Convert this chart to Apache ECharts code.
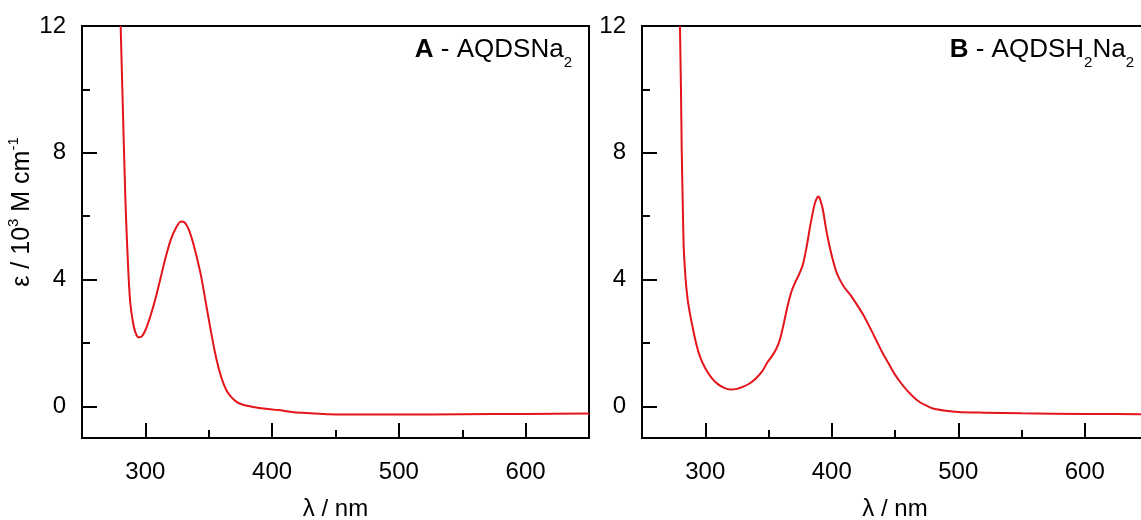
<!DOCTYPE html>
<html>
<head>
<meta charset="utf-8">
<script src="https://cdn.jsdelivr.net/npm/echarts@6/dist/echarts.min.js"></script>
<style>html,body{margin:0;padding:0;background:#fff;overflow:hidden}#c{width:1141px;height:520px}</style>
</head>
<body>
<div id="c"></div>
<script>
// ---- data ----
const lambdaA = [280.5, 282.5, 284.5, 286.5, 288, 290, 292, 294.5, 297, 300, 304, 308, 312, 316, 320, 324, 328, 331, 334, 337, 340, 344, 348, 352, 356, 360, 364, 368, 372, 377, 385, 395, 405, 417, 430, 445, 470, 500, 550, 600, 650];
const epsA    = [12.0, 9.0, 6.2, 4.3, 3.3, 2.7, 2.35, 2.18, 2.2, 2.4, 2.85, 3.4, 4.05, 4.7, 5.25, 5.62, 5.83, 5.8, 5.6, 5.25, 4.8, 4.1, 3.2, 2.3, 1.5, 0.9, 0.5, 0.28, 0.14, 0.05, -0.02, -0.08, -0.12, -0.19, -0.22, -0.25, -0.26, -0.26, -0.25, -0.24, -0.23];

const lambdaB = [280, 280.8, 281.4, 282.3, 283, 284.5, 286, 288, 290, 293, 296, 300, 305, 310, 315, 320, 325, 330, 335, 340, 345, 349, 353, 356, 359, 362, 365, 368, 371, 374, 377, 380, 383, 386, 388, 389.5, 391, 393, 395.5, 398, 401, 404, 407, 410, 415, 420, 425, 430, 435, 440, 445, 450, 455, 460, 465, 470, 475, 480, 490, 500, 520, 550, 600, 650];
const epsB    = [12.0, 10.0, 8.1, 6.2, 5.0, 4.0, 3.4, 2.9, 2.5, 1.95, 1.55, 1.2, 0.9, 0.7, 0.58, 0.53, 0.55, 0.62, 0.72, 0.88, 1.1, 1.38, 1.6, 1.8, 2.1, 2.6, 3.15, 3.6, 3.9, 4.15, 4.45, 5.0, 5.7, 6.3, 6.55, 6.62, 6.5, 6.2, 5.6, 5.1, 4.6, 4.2, 3.95, 3.75, 3.5, 3.2, 2.88, 2.5, 2.1, 1.7, 1.35, 1.0, 0.72, 0.48, 0.28, 0.12, 0.02, -0.07, -0.14, -0.18, -0.2, -0.22, -0.24, -0.25];

const xMajorTicks = [300, 400, 500, 600];
const xMinorTicks = [350, 450, 550];
const yMajorTicks = [0, 4, 8, 12];
const yMinorTicks = [2, 6, 10];
const xRange = [250, 650];
const yRange = [-1, 12];

const titleA = '{b|A}{n| - AQDSNa}{s|2}';
const titleB = '{b|B}{n| - AQDSH}{s|2}{n|Na}{s|2}';
const xName = 'λ / nm';
const yName = '{t|ε / 10}{p|3}{t| M cm}{p|-1}';

// ---- chart ----
const FONT = '"Liberation Sans", Arial, sans-serif';
const BLACK = '#000';
const RED = '#e4141b';

const titleRich = {
  b: {fontFamily: FONT, fontSize: 26, fontWeight: 'bold', color: BLACK, lineHeight: 40},
  n: {fontFamily: FONT, fontSize: 26, fontWeight: 'normal', color: BLACK, lineHeight: 40},
  s: {fontFamily: FONT, fontSize: 15, fontWeight: 'normal', color: BLACK, lineHeight: 12, verticalAlign: 'bottom'}
};

function xAxes(gi) {
  return [{
    type: 'value', gridIndex: gi, min: xRange[0], max: xRange[1], position: 'bottom',
    axisLine: {show: true, onZero: false, lineStyle: {color: BLACK, width: 2}},
    axisTick: {show: true, inside: true, length: 15, lineStyle: {color: BLACK, width: 2}, customValues: xMajorTicks},
    axisLabel: {show: true, customValues: xMajorTicks, margin: 22, fontSize: 24, color: BLACK, fontFamily: FONT},
    splitLine: {show: false},
    name: xName, nameLocation: 'middle', nameGap: 59,
    nameTextStyle: {fontSize: 24, color: BLACK, fontFamily: FONT}
  }, {
    type: 'value', gridIndex: gi, min: xRange[0], max: xRange[1], position: 'bottom',
    axisLine: {show: false, onZero: false},
    axisTick: {show: true, inside: true, length: 8, lineStyle: {color: BLACK, width: 2}, customValues: xMinorTicks},
    axisLabel: {show: false},
    splitLine: {show: false}
  }];
}

function yAxes(gi, withName) {
  const main = {
    type: 'value', gridIndex: gi, min: yRange[0], max: yRange[1], position: 'left',
    axisLine: {show: true, onZero: false, lineStyle: {color: BLACK, width: 2}},
    axisTick: {show: true, inside: true, length: 15, lineStyle: {color: BLACK, width: 2}, customValues: yMajorTicks},
    axisLabel: {show: true, customValues: yMajorTicks, margin: 16, fontSize: 24, color: BLACK, fontFamily: FONT},
    splitLine: {show: false}
  };
  if (withName) {
    main.name = yName;
    main.nameLocation = 'middle';
    main.nameGap = 44;
    main.nameTextStyle = {
      padding: [0, 0, 0, 40],
      rich: {
        t: {fontFamily: FONT, fontSize: 25, color: BLACK, lineHeight: 32},
        p: {fontFamily: FONT, fontSize: 15, color: BLACK, lineHeight: 20, verticalAlign: 'top'}
      }
    };
  }
  return [main, {
    type: 'value', gridIndex: gi, min: yRange[0], max: yRange[1], position: 'left',
    axisLine: {show: false, onZero: false},
    axisTick: {show: true, inside: true, length: 8, lineStyle: {color: BLACK, width: 2}, customValues: yMinorTicks},
    axisLabel: {show: false},
    splitLine: {show: false}
  }];
}

function pairs(xs, ys) { return xs.map((x, i) => [x, ys[i]]); }

const gridBase = {top: 26, height: 412, show: true, borderColor: BLACK, borderWidth: 2,
  backgroundColor: 'transparent', containLabel: false, outerBoundsMode: 'none'};

const chart = echarts.init(document.getElementById('c'), null, {renderer: 'canvas'});
chart.setOption({
  animation: false,
  backgroundColor: '#fff',
  title: [
    {text: titleA, right: 569, top: 30, padding: 0, textStyle: {rich: titleRich}},
    {text: titleB, right: 7, top: 30, padding: 0, textStyle: {rich: titleRich}}
  ],
  grid: [
    Object.assign({left: 82, width: 507}, gridBase),
    Object.assign({left: 642, width: 506}, gridBase)
  ],
  xAxis: [...xAxes(0), ...xAxes(1)],
  yAxis: [...yAxes(0, true), ...yAxes(1, false)],
  series: [
    {type: 'line', xAxisIndex: 0, yAxisIndex: 0, data: pairs(lambdaA, epsA), showSymbol: false, smooth: 0.25, clip: true,
     lineStyle: {color: RED, width: 2}},
    {type: 'line', xAxisIndex: 2, yAxisIndex: 2, data: pairs(lambdaB, epsB), showSymbol: false, smooth: 0.25, clip: true,
     lineStyle: {color: RED, width: 2}}
  ]
});
</script>
</body>
</html>
